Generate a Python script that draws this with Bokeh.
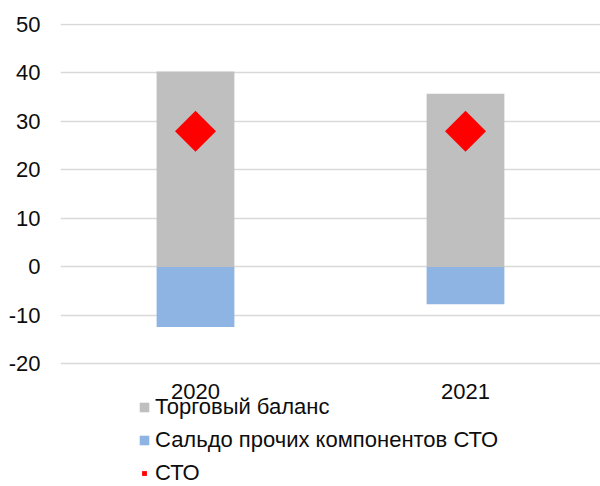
import math
from bokeh.plotting import figure
from bokeh.models import (ColumnDataSource, Range1d, FactorRange, FixedTicker,
                          Legend, LegendItem)
from bokeh.embed import file_html
from bokeh.resources import INLINE

years = ["2020", "2021"]
trade = [40.3, 35.7]
other = [-12.4, -7.7]
cto = [28.0, 28.0]
y_ticks = [-20, -10, 0, 10, 20, 30, 40, 50]

src = ColumnDataSource(dict(years=years, trade=trade, other=other, cto=cto,
                            zero=[0] * len(years)))

FONT = "Liberation Sans"
TXT = "#0d0d0d"
p = figure(frame_width=540, frame_height=463, x_range=FactorRange(*years),
           y_range=Range1d(-45.26, 50.2), output_backend="svg",
           toolbar_location=None, min_border_left=60, min_border_right=0,
           min_border_top=23, min_border_bottom=0)
p.outline_line_color = None
p.background_fill_color = "white"

r_trade = p.vbar(x="years", bottom="zero", top="trade", width=0.288, source=src,
                 fill_color="#bfbfbf", line_color=None)
r_other = p.vbar(x="years", bottom="zero", top="other", width=0.288, source=src,
                 fill_color="#8eb4e3", line_color=None)
r_cto = p.scatter(x="years", y="cto", source=src, marker="square",
                  angle=math.pi / 4, size=29, fill_color="#ff0000",
                  line_color=None)

p.xgrid.grid_line_color = None
p.ygrid.grid_line_color = "#d9d9d9"
p.ygrid.grid_line_width = 1.5
p.yaxis.ticker = FixedTicker(ticks=y_ticks)
p.yaxis.major_label_overrides = {t: str(t) for t in y_ticks}
p.xaxis.fixed_location = y_ticks[0]

for ax in (p.xaxis[0], p.yaxis[0]):
    ax.axis_line_color = None
    ax.major_tick_line_color = None
    ax.minor_tick_line_color = None
    ax.major_tick_out = 0
    ax.major_tick_in = 0
    ax.major_label_text_font = FONT
    ax.major_label_text_font_size = "22px"
    ax.major_label_text_color = TXT
p.yaxis.major_label_standoff = 20
p.xaxis.major_label_standoff = 20

legend = Legend(items=[
    LegendItem(label="Торговый баланс", renderers=[r_trade]),
    LegendItem(label="Сальдо прочих компонентов СТО", renderers=[r_other]),
    LegendItem(label="СТО", renderers=[r_cto]),
], orientation="vertical", location=(78, 0))
legend.label_text_font = FONT
legend.label_text_font_size = "22px"
legend.label_text_color = TXT
legend.glyph_width = 12
legend.glyph_height = 12
legend.label_height = 20
legend.label_standoff = 5
legend.spacing = 7
legend.padding = 0
legend.margin = 0
legend.border_line_color = None
legend.background_fill_alpha = 0
p.add_layout(legend, "center")

open("out.html", "w").write(file_html(p, INLINE))
